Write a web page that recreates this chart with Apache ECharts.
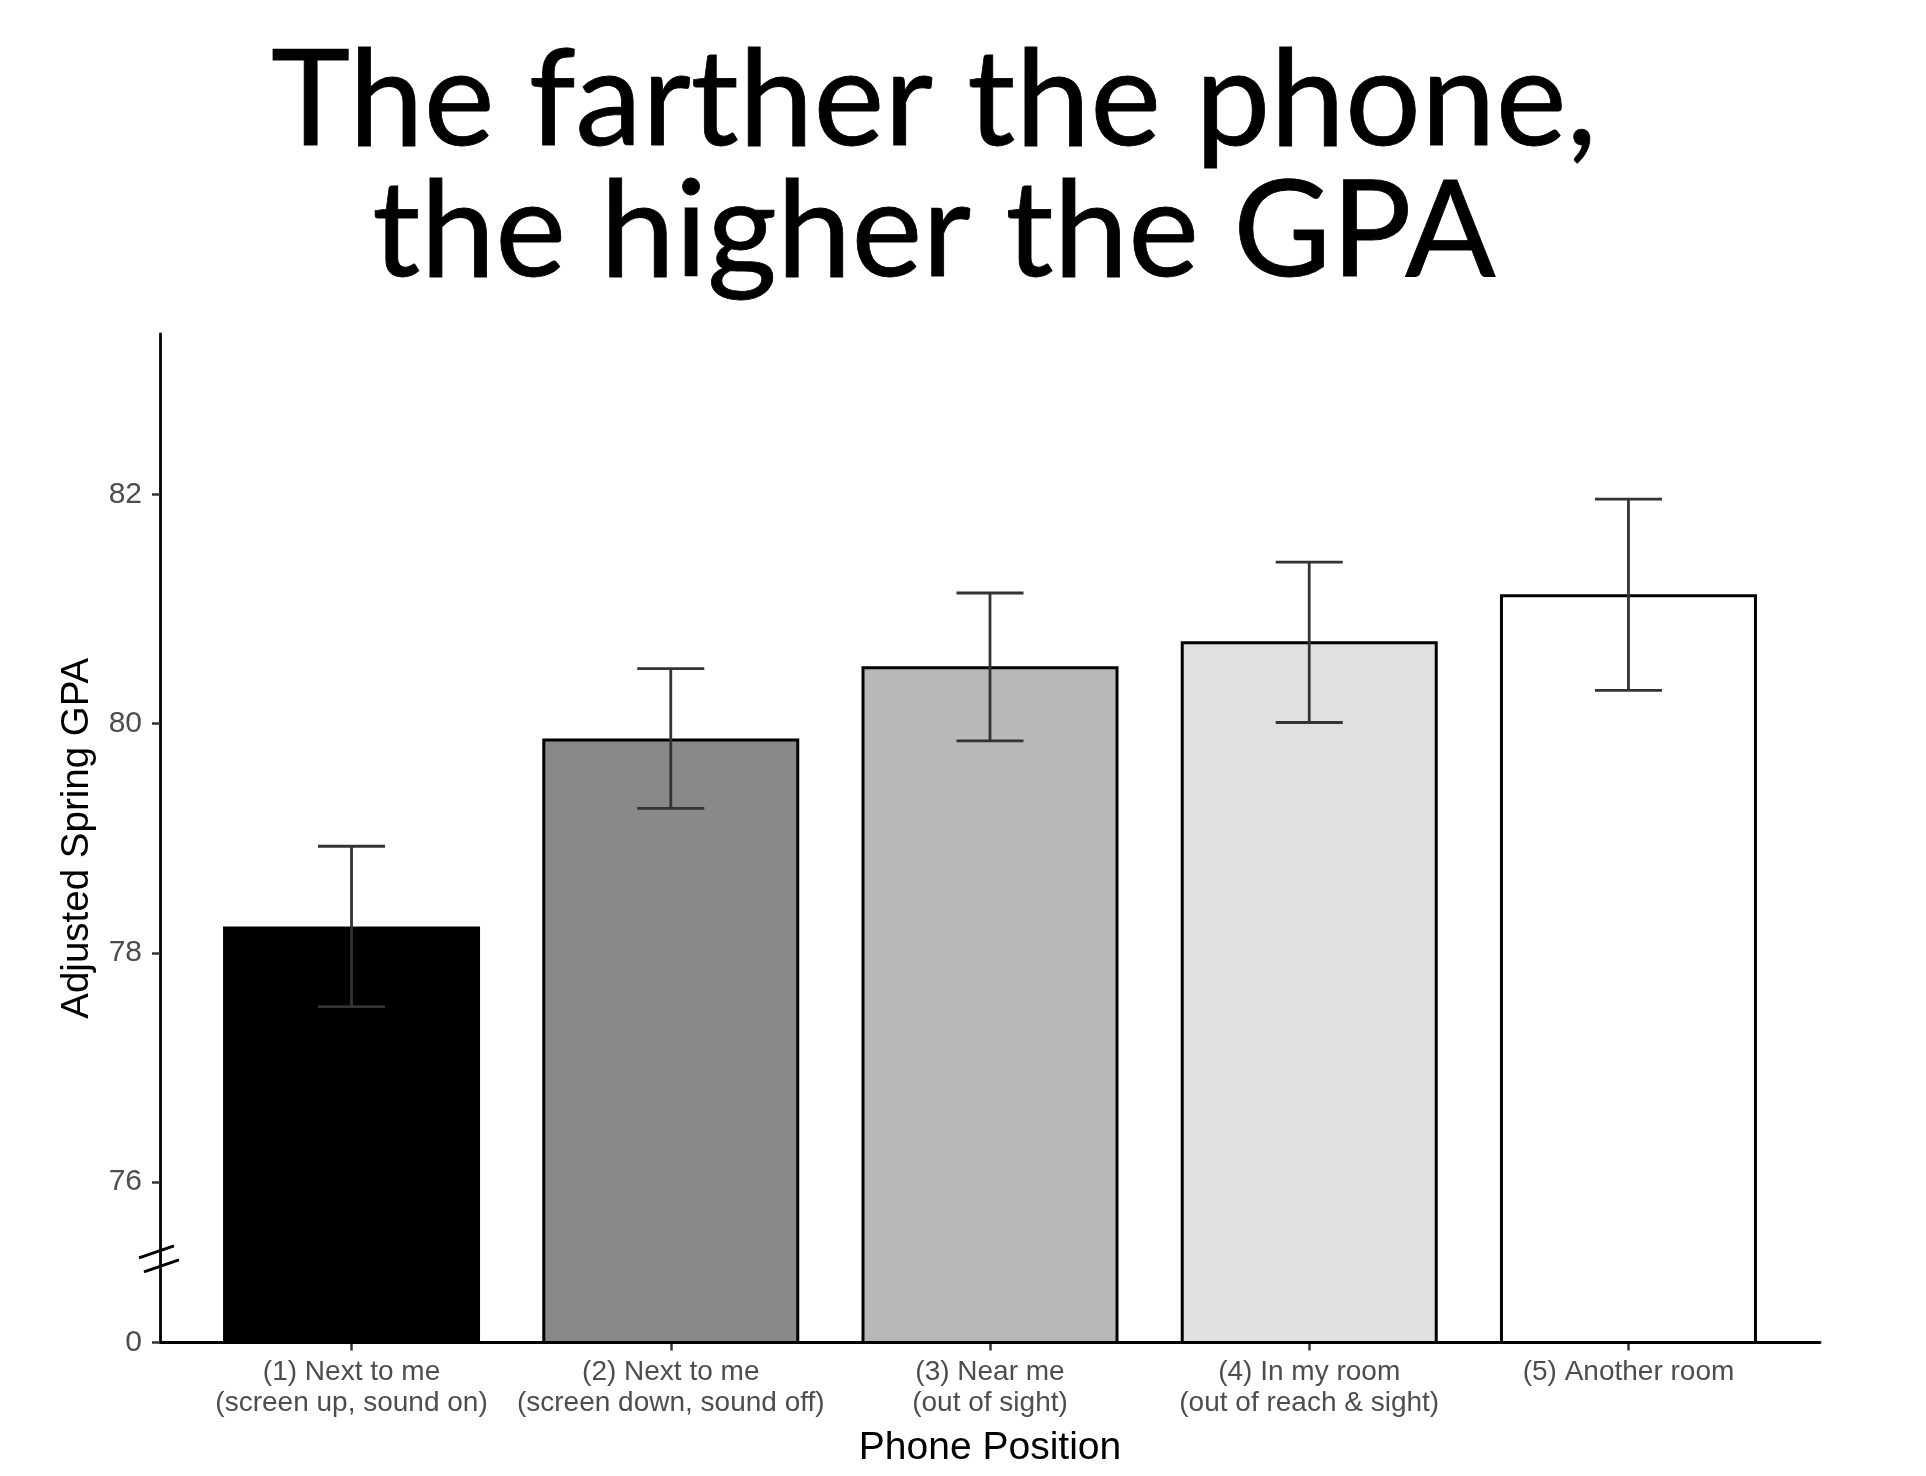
<!DOCTYPE html>
<html>
<head>
<meta charset="utf-8">
<title>Phone position and GPA</title>
<script src="https://cdn.jsdelivr.net/npm/echarts@6.0.0/dist/echarts.min.js"></script>
<style>
  html, body { margin: 0; padding: 0; background: #fff; }
  #chart { width: 1926px; height: 1476px; }
</style>
</head>
<body>
<div id="chart"></div>
<script>
// data
const titleLines = ['The farther the phone,', 'the higher the GPA'];
const positionIndex = [1, 2, 3, 4, 5];
const positionLabels = [
  '(1) Next to me\n(screen up, sound on)',
  '(2) Next to me\n(screen down, sound off)',
  '(3) Near me\n(out of sight)',
  '(4) In my room\n(out of reach & sight)',
  '(5) Another room'
];
const gpaMean = [78.23, 79.87, 80.50, 80.72, 81.13];
const ciLow = [77.53, 79.26, 79.85, 80.01, 80.29];
const ciHigh = [78.93, 80.48, 81.14, 81.41, 81.96];
const barColors = ['#000000', '#898989', '#b8b8b8', '#e0e0e0', '#ffffff'];
const yTickValues = [74.6, 76, 78, 80, 82];
const yTickLabels = ['0', '76', '78', '80', '82'];
const axisBreakAt = 75.33;

let chartDom = document.getElementById('chart');
let myChart = echarts.init(chartDom);

let option = {
  backgroundColor: '#ffffff',
  animation: false,
  graphic: [
    {
      type: 'text',
      x: 934,
      y: 36,
      style: {
        text: titleLines.join('\n'),
        fill: '#000000',
        stroke: '#000000',
        lineWidth: 0.8,
        font: '134px Lato',
        textAlign: 'center',
        lineHeight: 131
      }
    }
  ],
  grid: {
    left: 160,
    right: 106,
    top: 334,
    bottom: 133.5,
    outerBoundsMode: 'none'
  },
  xAxis: {
    type: 'value',
    min: 0.4,
    max: 5.6,
    name: 'Phone Position',
    nameLocation: 'middle',
    nameGap: 86,
    nameTextStyle: {
      color: '#000000',
      fontSize: 39,
      fontFamily: 'Liberation Sans'
    },
    axisLine: {
      show: true,
      onZero: false,
      lineStyle: { color: '#000000', width: 2.8 }
    },
    axisTick: {
      show: true,
      length: 8,
      customValues: positionIndex,
      lineStyle: { color: '#333333', width: 2.5 }
    },
    axisLabel: {
      customValues: positionIndex,
      margin: 14,
      color: '#4d4d4d',
      fontSize: 28,
      lineHeight: 31,
      fontFamily: 'Liberation Sans',
      verticalAlign: 'top',
      formatter: function (v) {
        return positionLabels[positionIndex.indexOf(Math.round(v))];
      }
    },
    splitLine: { show: false }
  },
  yAxis: {
    type: 'value',
    min: 74.6,
    max: 83.4,
    name: 'Adjusted Spring GPA',
    nameLocation: 'middle',
    nameGap: 63,
    nameTextStyle: {
      color: '#000000',
      fontSize: 38.5,
      fontFamily: 'Liberation Sans'
    },
    axisLine: {
      show: true,
      lineStyle: { color: '#000000', width: 2.8 }
    },
    axisTick: {
      show: true,
      length: 8,
      customValues: yTickValues,
      lineStyle: { color: '#333333', width: 2.5 }
    },
    axisLabel: {
      customValues: yTickValues,
      margin: 18,
      color: '#4d4d4d',
      fontSize: 30,
      fontFamily: 'Liberation Sans',
      formatter: function (v) {
        let i = yTickValues.findIndex(function (t) { return Math.abs(t - v) < 0.01; });
        return i >= 0 ? yTickLabels[i] : '';
      }
    },
    splitLine: { show: false }
  },
  series: [
    {
      type: 'bar',
      barWidth: 257,
      clip: true,
      data: positionIndex.map(function (x, i) {
        return {
          value: [x, gpaMean[i]],
          itemStyle: {
            color: barColors[i],
            borderColor: '#000000',
            borderWidth: 3
          }
        };
      })
    },
    {
      // error bars
      type: 'custom',
      z: 3,
      data: positionIndex.map(function (x, i) {
        return [x, ciLow[i], ciHigh[i]];
      }),
      renderItem: function (params, api) {
        let lo = api.coord([api.value(0), api.value(1)]);
        let hi = api.coord([api.value(0), api.value(2)]);
        let half = api.size([0.21, 0])[0] / 2;
        let style = { stroke: '#333333', lineWidth: 2.8 };
        return {
          type: 'group',
          children: [
            { type: 'line', shape: { x1: lo[0], y1: hi[1], x2: lo[0], y2: lo[1] }, style: style },
            { type: 'line', shape: { x1: lo[0] - half, y1: hi[1], x2: lo[0] + half, y2: hi[1] }, style: style },
            { type: 'line', shape: { x1: lo[0] - half, y1: lo[1], x2: lo[0] + half, y2: lo[1] }, style: style }
          ]
        };
      }
    },
    {
      // axis break marks
      type: 'custom',
      z: 4,
      clip: false,
      silent: true,
      data: [[0.4, axisBreakAt]],
      renderItem: function (params, api) {
        let p = api.coord([api.value(0), api.value(1)]);
        let style = { stroke: '#000000', lineWidth: 3 };
        return {
          type: 'group',
          children: [
            { type: 'line', shape: { x1: p[0] - 21, y1: p[1] - 1, x2: p[0] + 14, y2: p[1] - 13 }, style: style },
            { type: 'line', shape: { x1: p[0] - 16, y1: p[1] + 13, x2: p[0] + 19, y2: p[1] + 1 }, style: style }
          ]
        };
      }
    }
  ]
};

myChart.setOption(option);
window.onresize = function () {
  myChart.resize();
};
</script>
</body>
</html>
